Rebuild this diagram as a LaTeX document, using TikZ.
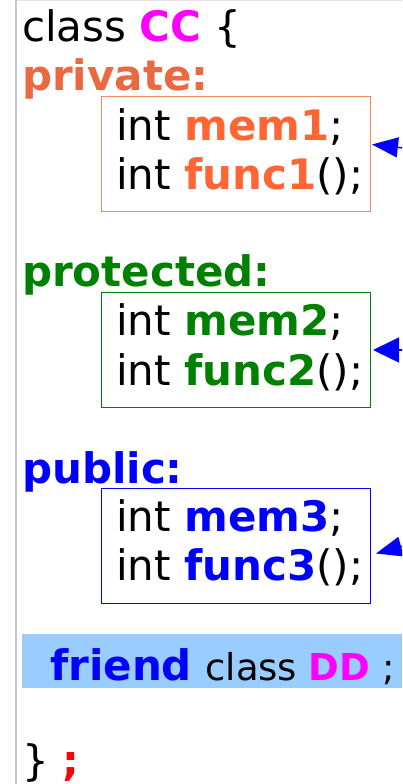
\documentclass[tikz,border=0pt]{standalone}
\usepackage{fontspec}
\setmainfont{DejaVu Sans}
\usetikzlibrary{arrows.meta}

\definecolor{kwmag}{HTML}{FF00FF}
\definecolor{privlbl}{HTML}{EB6841}
\definecolor{privtxt}{HTML}{FF6633}
\definecolor{privedge}{HTML}{F7875F}
\definecolor{protc}{HTML}{008000}
\definecolor{pubc}{HTML}{0000FF}
\definecolor{hlbar}{HTML}{99CCFF}
\definecolor{rulegray}{HTML}{C8C8C8}
\definecolor{topgray}{HTML}{E2E2E2}

\begin{document}
\begin{tikzpicture}[x=1pt,y=-1pt,
  code/.style={inner sep=0pt, anchor=base west, font=\fontsize{42}{50}\selectfont},
  membox/.style={draw=#1, line width=1pt, minimum width=269pt, minimum height=115pt,
                 anchor=north west, inner sep=0pt},
  link/.style={draw=blue, line width=1.5pt,
               -{Triangle[length=26pt,width=#1]}},
  link/.default=20pt]

  \useasboundingbox (0,0) rectangle (402,784);
  \clip (0,0) rectangle (402,784);

  % editor margin rules
  \draw[topgray, line width=1pt] (16,0.5) -- (402,0.5);
  \draw[rulegray, line width=1.2pt] (16,0) -- (16,784);

  % class header
  \node[code] (head) at (22,42) {class \textbf{\textcolor{kwmag}{CC}} \{};

  % private section
  \node[code] (privlabel) at (22,90) {\textbf{\textcolor{privlbl}{private:}}};
  \node[membox=privedge] (privbox) at (101,96) {};
  \node[code] (privmem) at (116,140) {int \textbf{\textcolor{privtxt}{mem1}};};
  \node[code] (privfun) at (116,189) {int \textbf{\textcolor{privtxt}{func1}}();};

  % protected section
  \node[code] (protlabel) at (22,286) {\textbf{\textcolor{protc}{protected:}}};
  \node[membox=protc] (protbox) at (101,292) {};
  \node[code] (protmem) at (116,335) {int \textbf{\textcolor{protc}{mem2}};};
  \node[code] (protfun) at (116,385) {int \textbf{\textcolor{protc}{func2}}();};

  % public section
  \node[code] (publabel) at (22,483) {\textbf{\textcolor{pubc}{public:}}};
  \node[membox=pubc] (pubbox) at (101,488) {};
  \node[code] (pubmem) at (116,531) {int \textbf{\textcolor{pubc}{mem3}};};
  \node[code] (pubfun) at (116,580) {int \textbf{\textcolor{pubc}{func3}}();};

  % friend declaration on a highlighted line
  \node[fill=hlbar, inner sep=0pt, minimum width=380pt, minimum height=54pt,
        anchor=north west] (friendbar) at (22,634) {};
  \node[code] (friend) at (50,680)
    {\textbf{\textcolor{pubc}{friend}} {\fontsize{37}{44}\selectfont class
     \textbf{\textcolor{kwmag}{DD}} ;}};

  % closing brace
  \node[code] (close) at (22,775) {\} \textbf{\textcolor{red}{;}}};

  % incoming references from the right
  \coordinate (src1) at (440,152);
  \coordinate (src2) at (440,350);
  \coordinate (src3) at (440,536);
  \draw[link] (src1) -- ([xshift=1pt,yshift=9.5pt]privbox.east);
  \draw[link=25pt] (src2) -- ([xshift=2pt]protbox.east);
  \draw[link] (src3) -- ([xshift=5pt,yshift=-7.5pt]pubbox.east);
\end{tikzpicture}
\end{document}
